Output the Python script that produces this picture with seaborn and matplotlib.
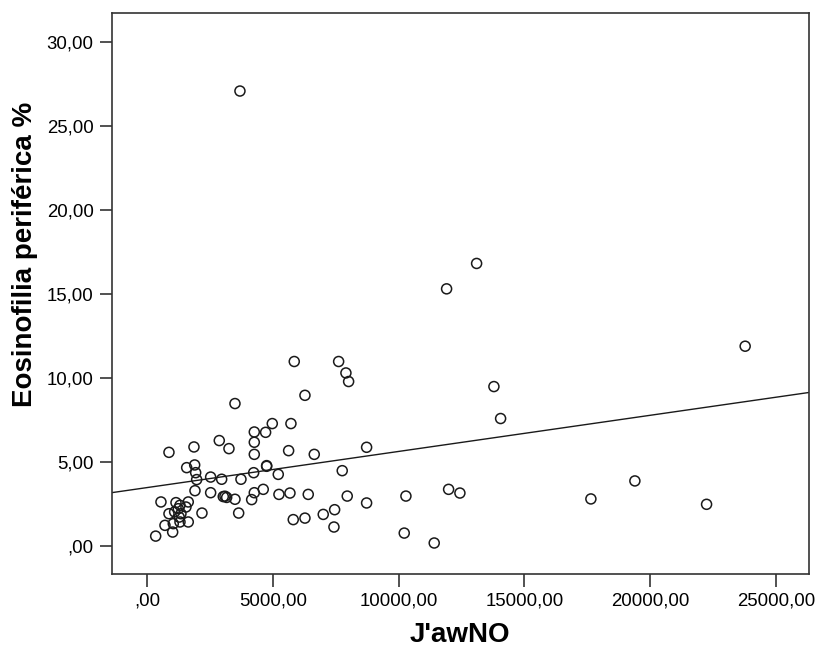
import matplotlib
matplotlib.use("Agg")
import matplotlib.pyplot as plt
from matplotlib.ticker import FuncFormatter
import seaborn as sns
import pandas as pd

# J'awNO values
jawno = [3696, 11911, 13104, 23780, 13792, 14058, 10294, 11991, 12440, 17647,
         19396, 22246, 10227, 11419, 8731, 8731, 5855, 7619, 7909, 8016,
         6280, 3498, 4981, 5723, 4266, 4716, 2874, 4266, 3259, 5631,
         4266, 6650, 4757, 4757, 7762, 2531, 2969, 3736, 4241, 5219,
         1975, 2531, 3033, 3100, 3168, 3498, 4266, 4622, 4161, 5246,
         5684, 6411, 7961, 2186, 3645, 7460, 7007, 5815, 6280, 7433,
         874, 1868, 1578, 1896, 1936, 1908, 556, 1153, 1641, 1550,
         1312, 1244, 874, 1100, 1350, 715, 1045, 1312, 1641, 1021,
         346, 1280]
# Eosinofilia periférica %
eosin = [27.07, 15.31, 16.82, 11.90, 9.50, 7.60, 2.99, 3.39, 3.17, 2.82,
         3.89, 2.50, 0.79, 0.20, 5.89, 2.58, 10.99, 10.99, 10.31, 9.80,
         8.98, 8.49, 7.30, 7.30, 6.80, 6.78, 6.29, 6.19, 5.81, 5.69,
         5.47, 5.47, 4.80, 4.76, 4.50, 4.12, 3.99, 3.99, 4.38, 4.28,
         3.97, 3.19, 2.96, 2.98, 2.91, 2.80, 3.19, 3.39, 2.78, 3.09,
         3.17, 3.09, 2.99, 1.98, 1.98, 2.18, 1.90, 1.59, 1.68, 1.15,
         5.59, 5.91, 4.68, 4.84, 4.38, 3.31, 2.64, 2.60, 2.64, 2.34,
         2.44, 2.24, 1.94, 2.05, 1.94, 1.25, 1.35, 1.45, 1.45, 0.85,
         0.61, 1.74]

x_ticks = [0, 5000, 10000, 15000, 20000, 25000]
y_ticks = [0, 5, 10, 15, 20, 25, 30]

df = pd.DataFrame({"J'awNO": jawno, "Eosinofilia periférica %": eosin})

sns.set_style("white")
plt.rcParams['font.family'] = ['Liberation Sans', 'DejaVu Sans']

fig = plt.figure(figsize=(8.17, 6.5), dpi=100)
ax = fig.add_axes([0.1367, 0.117, 0.8533, 0.8625])
ax.set_xlim(-1403, 26311)
ax.set_ylim(-1.64, 31.69)

sns.scatterplot(data=df, x="J'awNO", y="Eosinofilia periférica %", ax=ax,
                marker="o", s=52, facecolor="none", edgecolor="#1a1a1a",
                linewidth=1.1, zorder=3)
sns.regplot(data=df, x="J'awNO", y="Eosinofilia periférica %", ax=ax,
            scatter=False, ci=None, truncate=False,
            line_kws={"color": "#1a1a1a", "linewidth": 1.0})

def fmt(v, pos):
    s = f"{v:.2f}".replace(".", ",")
    if s.startswith("0,"):
        s = s[1:]
    return s

ax.set_xticks(x_ticks)
ax.set_yticks(y_ticks)
ax.xaxis.set_major_formatter(FuncFormatter(fmt))
ax.yaxis.set_major_formatter(FuncFormatter(fmt))
ax.tick_params(axis="both", direction="out", length=9, width=1.2,
               color="#333333", labelsize=13.4, labelcolor="black", pad=4)
ax.tick_params(bottom=True, left=True)
for sp in ax.spines.values():
    sp.set_linewidth(1.2)
    sp.set_color("#333333")

ax.set_xlabel("J'awNO", fontsize=20, fontweight="bold", color="black")
ax.set_ylabel("Eosinofilia periférica %", fontsize=20, fontweight="bold", color="black")
ax.xaxis.set_label_coords(0.5, -0.085)
ax.yaxis.set_label_coords(-0.105, 0.57)

fig.savefig("out.png", dpi=100)
